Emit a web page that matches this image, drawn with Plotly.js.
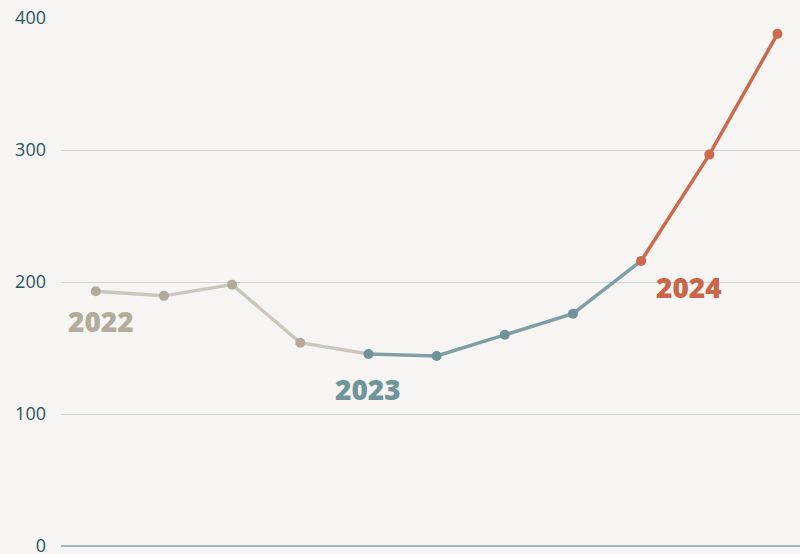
<!DOCTYPE html>
<html>
<head>
<meta charset="utf-8">
<script src="https://cdn.plot.ly/plotly-3.0.1.min.js"></script>
<style>html,body{margin:0;padding:0;background:#f7f5f3;}#chart{width:800px;height:554px;}</style>
</head>
<body>
<div id="chart"></div>
<script>
var categories = ['2022 Q1','2022 Q2','2022 Q3','2022 Q4','2023 Q1','2023 Q2','2023 Q3','2023 Q4','2024 Q1','2024 Q2','2024 Q3'];
var years = ['2022','2022','2022','2022','2023','2023','2023','2023','2024','2024','2024'];
var values = [193, 189.5, 198, 154, 145.5, 144, 160, 176, 216, 296.5, 388];
var yearLabels = ['2022','2023','2024'];

var lineColors = {'2022':'#ccc7bd','2023':'#7f9fa4','2024':'#cc6a4c'};
var markerColors = {'2022':'#b1aa9a','2023':'#6f9398','2024':'#cc6a4c'};
var textColors = {'2022':'#b3ab9b','2023':'#6f959a','2024':'#c9664a'};

var traces = [];
yearLabels.forEach(function(yr){
  var idx = [];
  years.forEach(function(y,i){ if(y===yr) idx.push(i); });
  var last = idx[idx.length-1];
  var lineIdx = idx.slice();
  if (last+1 < values.length) lineIdx.push(last+1);
  traces.push({
    type:'scatter', mode:'lines', x: lineIdx.map(function(i){return categories[i];}), y: lineIdx.map(function(i){return values[i];}),
    line:{color:lineColors[yr], width:3.5}, hoverinfo:'skip', showlegend:false
  });
});
yearLabels.forEach(function(yr){
  var idx = [];
  years.forEach(function(y,i){ if(y===yr) idx.push(i); });
  traces.push({
    type:'scatter', mode:'markers', x: idx.map(function(i){return categories[i];}), y: idx.map(function(i){return values[i];}),
    marker:{color:markerColors[yr], size:10}, showlegend:false
  });
});

var annPos = {'2022':{x:0.07,y:170.5},'2023':{x:4.0,y:119},'2024':{x:8.7,y:196.5}};
var annotations = yearLabels.map(function(yr){
  return {x:annPos[yr].x, y:annPos[yr].y, xref:'x', yref:'y', text:yr, showarrow:false,
    font:{family:'Open Sans', size:28, color:textColors[yr], weight:800}, xanchor:'center', yanchor:'middle'};
});

var layout = {
  width:800, height:554,
  paper_bgcolor:'#f7f5f3', plot_bgcolor:'#f7f5f3',
  margin:{l:61, r:0, t:18, b:8},
  showlegend:false,
  font:{family:'Open Sans'},
  xaxis:{type:'category', categoryarray:categories, range:[-0.51,10.33], showgrid:false, zeroline:false, showticklabels:false, ticks:'', showline:false, fixedrange:true},
  yaxis:{range:[0,400], dtick:100, tick0:0, showgrid:true, gridcolor:'#c9d6d4', gridwidth:1, zeroline:true, zerolinecolor:'#9fb9b9', zerolinewidth:1.5,
    tickfont:{family:'Open Sans', size:18, color:'#285760'}, ticks:'', ticklabelstandoff:14, ticklabeloverflow:'allow', showline:false, fixedrange:true},
  annotations:annotations
};
Plotly.newPlot('chart', traces, layout, {displayModeBar:false, staticPlot:true});
</script>
</body>
</html>
